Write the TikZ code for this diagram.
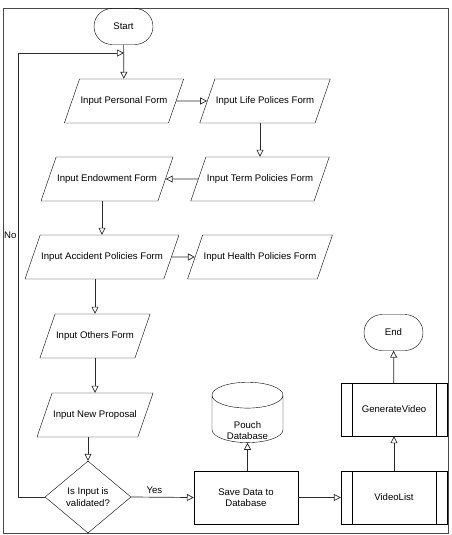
\documentclass[tikz,border=0pt]{standalone}
\usepackage{fontspec}
\setmainfont{Liberation Sans}
\usepackage{xcolor}
\usepackage{tikz}
\usetikzlibrary{arrows.meta,shapes.geometric,shapes.misc}
\definecolor{lineclr}{HTML}{2B2B2B}
\definecolor{frameclr}{HTML}{4A4A4A}
\newcommand{\flowfont}{\fontsize{9.6}{11.2}\selectfont}

\begin{document}
\begin{tikzpicture}[x=1pt,y=-1pt,font=\flowfont,
  io/.style={draw,trapezium,trapezium left angle=71,trapezium right angle=109,trapezium stretches body,text height=7pt,text depth=2pt,inner xsep=1pt,inner ysep=17.5pt},
  term/.style={draw,rounded rectangle,minimum width=61pt,minimum height=36pt,inner sep=1pt},
  proc/.style={draw,rectangle,minimum width=104pt,minimum height=53pt,align=center},
  pproc/.style={draw,rectangle,minimum width=106pt,minimum height=53pt,
    path picture={\draw ([xshift=11pt]path picture bounding box.north west) -- ([xshift=11pt]path picture bounding box.south west);
      \draw ([xshift=-11pt]path picture bounding box.north east) -- ([xshift=-11pt]path picture bounding box.south east);}},
  dec/.style={draw,diamond,aspect=1.2,minimum width=86pt,minimum height=72pt,inner sep=1pt,align=center},
  db/.style={draw,cylinder,shape border rotate=90,aspect=0.6,minimum width=71pt,minimum height=45pt,inner sep=1pt},
  arr/.style={draw=lineclr,line width=0.7pt,-{Triangle[open,length=7pt,width=7pt]}}]
\useasboundingbox (0,0) rectangle (451,535);
\draw[frameclr,line width=0.8pt] (3,8) rectangle (448,533);
% flow nodes
\node[term] (start) at (123.5,26.5) {Start};
\node[io,minimum width=106pt] (pers) at (124,101) {Input Personal Form};
\node[io,minimum width=124pt] (life) at (265,101) {Input Life Polices Form};
\node[io,minimum width=132pt] (termp) at (260,179) {Input Term Policies Form};
\node[io,minimum width=132pt] (endow) at (107,179) {Input Endowment Form};
\node[io,minimum width=141pt] (acc) at (102,257) {Input Accident Policies Form};
\node[io,minimum width=142pt] (health) at (260,257) {Input Health Policies Form};
\node[io,minimum width=108pt] (oth) at (95,336) {Input Others Form};
\node[io,minimum width=108pt] (prop) at (95,415) {Input New Proposal};
\node[dec] (valid) at (88,497) {Is Input is\\validated?};
\node[proc] (save) at (246,497.5) {Save Data to\\Database};
\node[db] (pouch) at (247.5,420.5) {\raisebox{-11pt}[\height][\depth]{\begin{tabular}{@{}c@{}}Pouch\\Database\end{tabular}}};
\node[pproc] (vlist) at (394,497.5) {VideoList};
\node[pproc] (gen) at (394,409.5) {GenerateVideo};
\node[term] (end) at (393.5,332.5) {End};
\coordinate (join) at (124,53);
% connectors
\draw[arr] (start) -- (pers);
\draw[arr] (pers.east) -- (life.west);
\draw[arr] (life.south -| termp.north) -- (termp.north);
\draw[arr] (termp.west) -- (endow.east);
\draw[arr] (endow.south -| acc.north) -- (acc.north);
\draw[arr] (acc.east) -- (health.west);
\draw[arr] (acc.south -| oth.north) -- (oth.north);
\draw[arr] (oth.south -| prop.north) -- (prop.north);
\draw[arr] (prop.south -| valid.north) -- (valid.north);
\draw[arr] (valid.east) -- node[above,pos=0.37]{Yes} (save.west);
\draw[arr] (valid.west) -- ++(-26,0) -- node[left,pos=0.59,inner sep=2pt]{No} ++(0,-444) -- (join);
\draw[arr] (save.north -| pouch.south) -- (pouch.south);
\draw[arr] (save.east) -- (vlist.west);
\draw[arr] (vlist) -- (gen);
\draw[arr] (gen) -- (end);
\end{tikzpicture}
\end{document}
